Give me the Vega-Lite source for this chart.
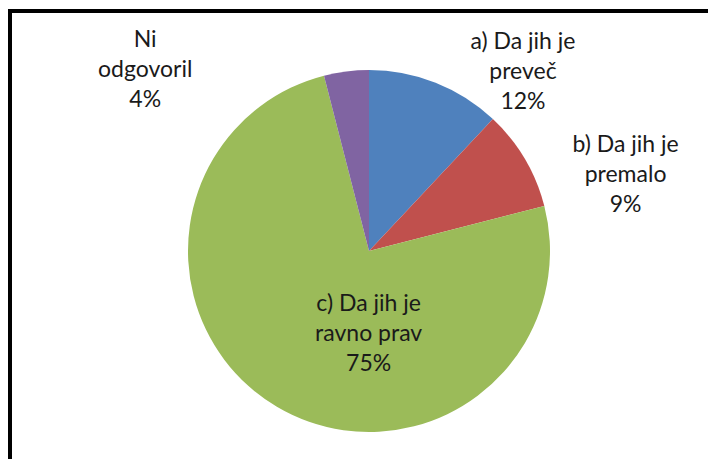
{
  "$schema": "https://vega.github.io/schema/vega-lite/v6.json",
  "width": 708,
  "height": 459,
  "autosize": {"type": "fit", "contains": "padding"},
  "padding": {"left": 10, "top": 8, "right": -20, "bottom": -32},
  "background": "white",
  "view": {"stroke": "black", "strokeWidth": 4, "fill": "white"},
  "data": {
    "values": [
      {"idx": 1, "category": "a) Da jih je\npreveč", "share": 0.12},
      {"idx": 2, "category": "b) Da jih je\npremalo", "share": 0.09},
      {"idx": 3, "category": "c) Da jih je\nravno prav", "share": 0.75},
      {"idx": 4, "category": "Ni\nodgovoril", "share": 0.04}
    ]
  },
  "transform": [
    {"calculate": "datum.category + '\\n' + format(datum.share, '.0%')", "as": "label"}
  ],
  "encoding": {
    "theta": {"field": "share", "type": "quantitative", "stack": true},
    "order": {"field": "idx", "type": "quantitative"}
  },
  "layer": [
    {
      "mark": {"type": "arc", "outerRadius": 181},
      "encoding": {
        "color": {
          "field": "category",
          "type": "nominal",
          "scale": {
            "domain": ["a) Da jih je\npreveč", "b) Da jih je\npremalo", "c) Da jih je\nravno prav", "Ni\nodgovoril"],
            "range": ["#4F81BD", "#C0504D", "#9BBB59", "#8064A2"]
          },
          "legend": null
        }
      }
    },
    {
      "mark": {"type": "text", "radius": 190, "dx": 84, "dy": -32, "font": "Lato", "fontSize": 23, "lineBreak": "\n", "lineHeight": 30, "align": "center", "baseline": "middle", "fill": "#1a1a1a"},
      "encoding": {"text": {"condition": {"test": "datum.idx == 1", "field": "label"}, "value": ""}}
    },
    {
      "mark": {"type": "text", "radius": 190, "dx": 93, "dy": -9, "font": "Lato", "fontSize": 23, "lineBreak": "\n", "lineHeight": 30, "align": "center", "baseline": "middle", "fill": "#1a1a1a"},
      "encoding": {"text": {"condition": {"test": "datum.idx == 2", "field": "label"}, "value": ""}}
    },
    {
      "mark": {"type": "text", "radius": 95, "dx": 48, "dy": -29, "font": "Lato", "fontSize": 23, "lineBreak": "\n", "lineHeight": 30, "align": "center", "baseline": "middle", "fill": "#1a1a1a"},
      "encoding": {"text": {"condition": {"test": "datum.idx == 3", "field": "label"}, "value": ""}}
    },
    {
      "mark": {"type": "text", "radius": 190, "dx": -200, "dy": -22, "font": "Lato", "fontSize": 23, "lineBreak": "\n", "lineHeight": 30, "align": "center", "baseline": "middle", "fill": "#1a1a1a"},
      "encoding": {"text": {"condition": {"test": "datum.idx == 4", "field": "label"}, "value": ""}}
    }
  ]
}
